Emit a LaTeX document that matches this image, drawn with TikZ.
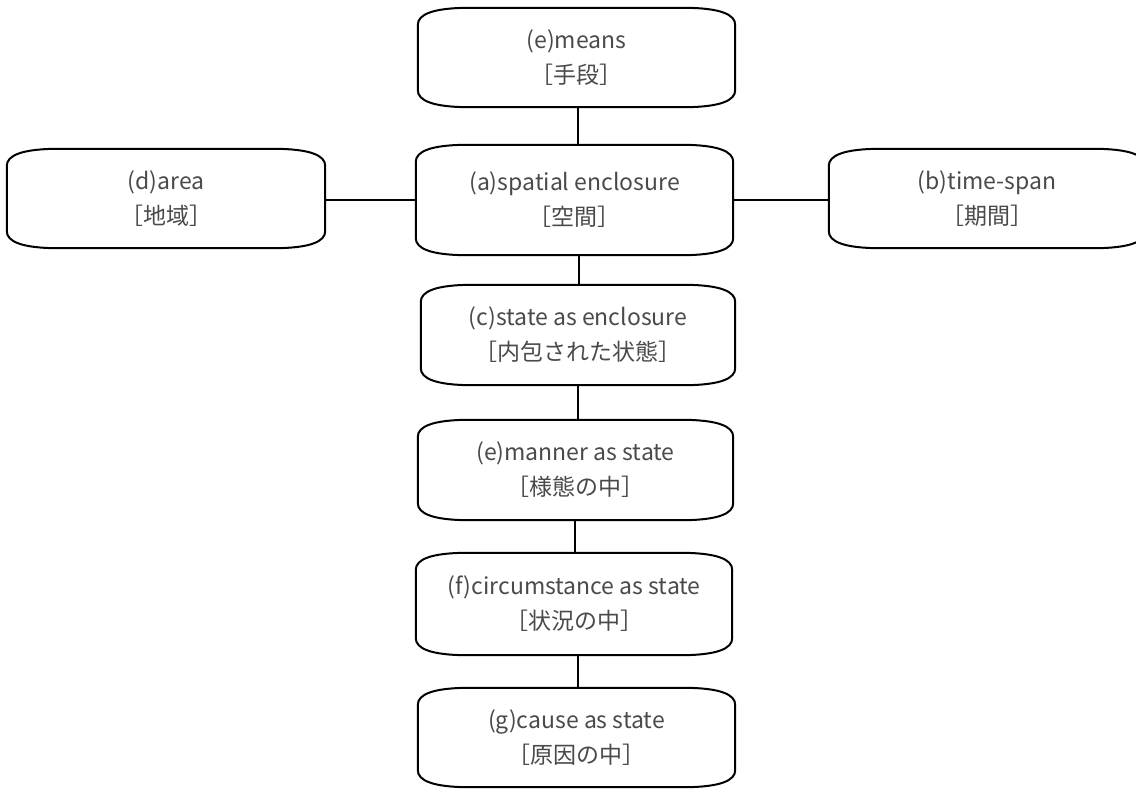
\documentclass[tikz,border=0pt]{standalone}
\usepackage{fontspec}
\setmainfont{Noto Sans CJK JP}
\definecolor{txtgray}{HTML}{4A4A4A}
\newcommand\termshape[1]{%
  \draw[boxline]
    ([yshift=-17pt]#1.north west) .. controls ([yshift=-7pt]#1.north west) and ([xshift=14pt]#1.north west) .. ([xshift=52pt]#1.north west)
    -- ([xshift=-52pt]#1.north east) .. controls ([xshift=-14pt]#1.north east) and ([yshift=-7pt]#1.north east) .. ([yshift=-17pt]#1.north east)
    -- ([yshift=17pt]#1.south east) .. controls ([yshift=7pt]#1.south east) and ([xshift=-14pt]#1.south east) .. ([xshift=-52pt]#1.south east)
    -- ([xshift=52pt]#1.south west) .. controls ([xshift=14pt]#1.south west) and ([yshift=7pt]#1.south west) .. ([yshift=17pt]#1.south west)
    -- cycle;}
\begin{document}
\begin{tikzpicture}[x=1pt,y=-1pt,
  boxline/.style={line width=2pt,black},
  conn/.style={line width=2pt,black},
  term/.style={rectangle,inner sep=0pt,align=center,text=txtgray,
    font=\fontsize{23}{35}\selectfont,minimum width=317pt,minimum height=99pt}]
\useasboundingbox (0,0) rectangle (1136,789);
\node[term] (means) at (576.5,57.5) {(e)means\\［手段］};
\node[term,minimum height=110pt] (spatial) at (574.5,200) {(a)spatial enclosure\\［空間］};
\node[term,minimum width=318pt] (area) at (166,198.5) {(d)area\\［地域］};
\node[term,minimum width=316pt] (time) at (987,198.5) {(b)time-span\\［期間］};
\node[term,minimum width=314pt,minimum height=100pt] (stateenc) at (578,335) {(c)state as enclosure\\［内包された状態］};
\node[term,minimum width=315pt,minimum height=100pt] (manner) at (575.5,470) {(e)manner as state\\［様態の中］};
\node[term,minimum width=316pt,minimum height=102pt] (circ) at (574,604) {(f)circumstance as state\\［状況の中］};
\node[term] (cause) at (576.5,737.5) {(g)cause as state\\［原因の中］};
\foreach \n in {means,spatial,area,time,stateenc,manner,circ,cause}{\termshape{\n}}
\draw[conn] ([xshift=1.5pt]means.south) -- ([xshift=1.5pt]means.south |- spatial.north);
\draw[conn] ([xshift=4.5pt]spatial.south) -- ([xshift=4.5pt]spatial.south |- stateenc.north);
\draw[conn] (stateenc.south) -- (stateenc.south |- manner.north);
\draw[conn] ([xshift=-0.5pt]manner.south) -- ([xshift=-0.5pt]manner.south |- circ.north);
\draw[conn] ([xshift=4pt]circ.south) -- ([xshift=4pt]circ.south |- cause.north);
\draw[conn] (spatial.west) -- (spatial.west -| area.east);
\draw[conn] (spatial.east) -- (spatial.east -| time.west);
\end{tikzpicture}
\end{document}
